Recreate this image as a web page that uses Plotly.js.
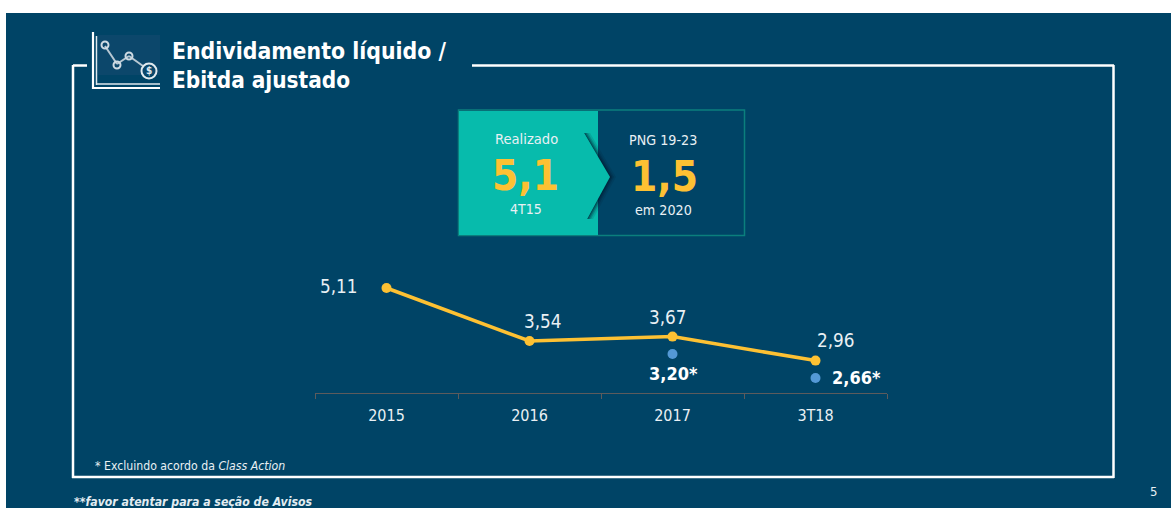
<!DOCTYPE html>
<html><head><meta charset="utf-8">
<script src="https://cdn.plot.ly/plotly-3.0.1.min.js"></script>
<style>html,body{margin:0;padding:0;background:#fff;overflow:hidden}#c{width:1171px;height:508px}</style>
</head><body><div id="c"></div>
<script>
const categories = ['2015','2016','2017','3T18'];
const mainValues = [5.11,3.54,3.67,2.96];
const mainLabels = ['5,11','3,54','3,67','2,96'];
const adjIndex = [2,3];
const adjValues = [3.20,2.66];
const adjLabels = ['3,20*','2,66*'];

const W=1171,H=508;
const FONT='"DejaVu Sans Condensed","DejaVu Sans",sans-serif';
const BG='#004466',WHITE='#ffffff',TXT='#e9f0f4',GOLD='#fdc133',BLUE='#5499d6',TEAL='#07bbac';
const px=x=>x/W, py=y=>1-y/H;
const poly=(pts)=>'M'+pts.map(p=>px(p[0])+','+py(p[1])).join(' L')+' Z';
const rect=(x0,y0,x1,y1,fill,line,lw,layer)=>({type:'rect',xref:'paper',yref:'paper',x0:px(x0),x1:px(x1),y0:py(y0),y1:py(y1),fillcolor:fill,line:{color:line||fill,width:lw||0},layer:layer||'below'});
const seg=(x0,y0,x1,y1,c,w)=>({type:'line',xref:'paper',yref:'paper',x0:px(x0),x1:px(x1),y0:py(y0),y1:py(y1),line:{color:c,width:w},layer:'below'});
const circ=(cx,cy,r,c,w)=>({type:'circle',xref:'paper',yref:'paper',x0:px(cx-r),x1:px(cx+r),y0:py(cy+r),y1:py(cy-r),line:{color:c,width:w},fillcolor:'rgba(0,0,0,0)',layer:'below'});
const note=(x,y,text,size,color,anchor)=>({xref:'paper',yref:'paper',x:px(x),y:py(y),text:text,showarrow:false,xanchor:anchor||'center',yanchor:'middle',font:{family:FONT,size:size,color:color||TXT},borderpad:0});
const shadow=(k,a)=>({type:'path',xref:'paper',yref:'paper',path:poly([[584+k,133],[610+k,177],[587+k,219],[587,219],[609,177],[584,133]]),fillcolor:'rgba(0,25,45,'+a+')',line:{width:0},layer:'below'});

const shapes=[
 rect(6,13,W,H,BG),
 // frame
 seg(73,65.5,87,65.5,WHITE,2.5),seg(73,65,73,478,WHITE,2.5),seg(72,477,1114,477,WHITE,2.5),
 seg(1113.5,478,1113.5,65,WHITE,2.5),seg(1114,65.5,472,65.5,WHITE,2.5),
 // icon
 rect(98,35,160,75,'#0c476b'),
 seg(93,32,93,89,WHITE,2.2),seg(92,88,160,88,WHITE,2.2),seg(96.5,36,96.5,85,'#dfe7ec',1.5),seg(96,84,160,84,'#dfe7ec',1.5),
 seg(105,46,117,64,'#b8c8d3',2),seg(117,64,129,56,'#b8c8d3',2),seg(129,56,143,66,'#b8c8d3',2),
 circ(105,45,3.5,'#cfdbe3',2),circ(117,65,3.5,'#cfdbe3',2),circ(129,56,3.5,'#cfdbe3',2),circ(149,71,7.5,'#e2eaef',2),
 // KPI box
 rect(458.5,110,744.5,235.5,BG,'#0b7f7d',1.5),
 rect(459,111,598,235,TEAL),
 shadow(6,0.12),shadow(4,0.2),shadow(2.5,0.28),shadow(1.2,0.35),
 {type:'path',xref:'paper',yref:'paper',path:poly([[584,133],[610,177],[587,219],[570,219],[570,133]]),fillcolor:TEAL,line:{width:0},layer:'below'}
];

const annotations=[
 note(171,51,'<b>Endividamento líquido /</b>',22.8,WHITE,'left'),
 note(171,80,'<b>Ebitda ajustado</b>',22.4,WHITE,'left'),
 note(149,71,'<b>$</b>',10,'#e2eaef'),
 note(526,139,'Realizado',14.6,TXT),
 note(525,175,'<b>5,1</b>',42,GOLD),
 note(526,209,'4T15',14,TXT),
 note(663,140,'PNG 19-23',14.2,TXT),
 note(664,176,'<b>1,5</b>',42,GOLD),
 note(663,210,'em 2020',14.2,TXT),
 note(94,465.5,'* Excluindo acordo da <i>Class Action</i>',12.2,TXT,'left'),
 note(73,501.5,'<b><i>**favor atentar para a seção de Avisos</i></b>',12.2,'#e3edf2','left'),
 note(1153,491,'5',13,TXT)
];
const mainOff=[[-48,2],[13,20],[-5,19],[20,20]];
categories.forEach((c,i)=>annotations.push({xref:'x',yref:'y',x:i,y:mainValues[i],text:mainLabels[i],showarrow:false,xshift:mainOff[i][0],yshift:mainOff[i][1],font:{family:FONT,size:18.8,color:TXT},borderpad:0}));
const adjOff=[[1,-19],[41,1]];
adjIndex.forEach((k,i)=>annotations.push({xref:'x',yref:'y2',x:k,y:adjValues[i],text:'<b>'+adjLabels[i]+'</b>',showarrow:false,xshift:adjOff[i][0],yshift:adjOff[i][1],font:{family:FONT,size:18,color:WHITE},borderpad:0}));

const data=[
 {type:'scatter',mode:'lines+markers',x:categories,y:mainValues,xaxis:'x',yaxis:'y',line:{color:GOLD,width:3.5},marker:{color:GOLD,size:10},hoverinfo:'skip'},
 {type:'scatter',mode:'markers',x:adjIndex.map(k=>categories[k]),y:adjValues,xaxis:'x',yaxis:'y2',marker:{color:BLUE,size:10},hoverinfo:'skip'}
];
const layout={
 width:W,height:H,margin:{l:0,r:0,t:0,b:0},paper_bgcolor:'#ffffff',plot_bgcolor:'rgba(0,0,0,0)',showlegend:false,
 xaxis:{domain:[315/W,887/W],type:'category',categoryorder:'array',categoryarray:categories,range:[-0.5,3.5],tickson:'boundaries',ticks:'outside',ticklen:5,tickcolor:'#5d5b5c',tickwidth:1,
  showline:true,linecolor:'#5d5b5c',linewidth:1,showgrid:false,zeroline:false,anchor:'y',tickfont:{family:FONT,size:16,color:TXT},ticklabelstandoff:8,automargin:false},
 yaxis:{domain:[1-393/H,1-270/H],range:[2.0,5.643],visible:false,fixedrange:true},
 yaxis2:{domain:[1-393/H,1-270/H],range:[2.3225,5.09],visible:false,overlaying:'y',fixedrange:true},
 shapes,annotations
};
Plotly.newPlot('c',data,layout,{displayModeBar:false,staticPlot:true});
</script></body></html>
